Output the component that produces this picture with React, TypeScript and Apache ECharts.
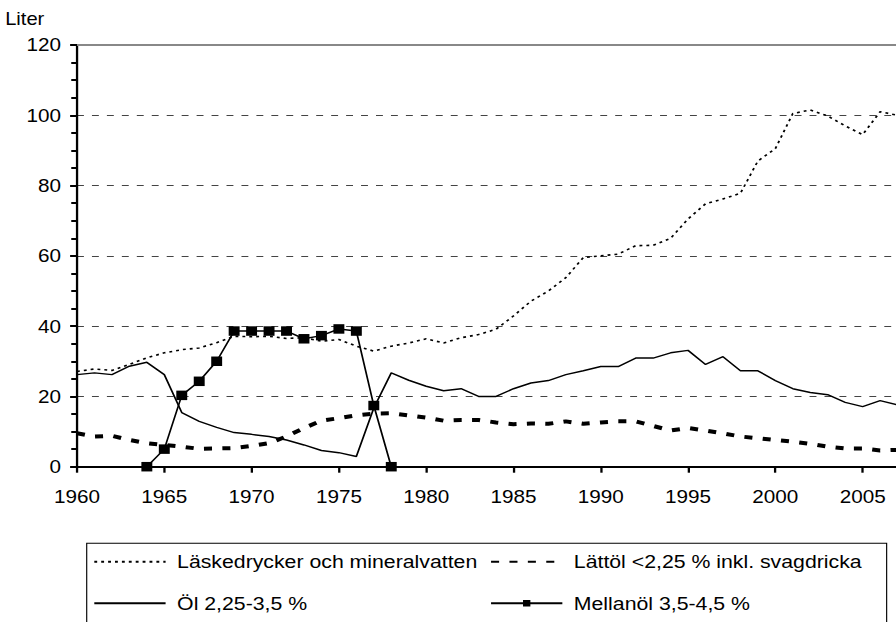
import React, { useEffect, useRef } from "react";
import * as echarts from "echarts";

const years = [
  1960, 1961, 1962, 1963, 1964, 1965, 1966, 1967, 1968, 1969,
  1970, 1971, 1972, 1973, 1974, 1975, 1976, 1977, 1978, 1979,
  1980, 1981, 1982, 1983, 1984, 1985, 1986, 1987, 1988, 1989,
  1990, 1991, 1992, 1993, 1994, 1995, 1996, 1997, 1998, 1999,
  2000, 2001, 2002, 2003, 2004, 2005, 2006, 2007,
];

const laskedrycker = [
  27.1, 27.8, 27.4, 29.1, 31.0, 32.4, 33.3, 33.8, 35.3, 37.1,
  37.0, 37.1, 36.5, 36.7, 35.7, 36.2, 34.3, 32.9, 34.3, 35.2,
  36.4, 35.2, 36.7, 37.6, 39.1, 42.9, 47.1, 50.0, 53.8, 59.5,
  60.0, 60.5, 62.9, 63.0, 65.0, 70.5, 74.8, 76.2, 77.8, 87.0,
  90.5, 100.5, 101.5, 99.8, 97.0, 94.5, 101.0, 100.0,
];

const lattol = [
  9.5, 8.6, 8.8, 7.6, 6.7, 6.2, 5.7, 5.1, 5.2, 5.3,
  5.9, 6.7, 8.6, 11.0, 13.1, 13.8, 14.6, 15.1, 15.2, 14.6,
  14.0, 13.1, 13.3, 13.3, 12.6, 12.1, 12.3, 12.2, 12.9, 12.2,
  12.6, 12.9, 12.9, 11.6, 10.3, 11.0, 10.3, 9.5, 8.6, 8.1,
  7.6, 7.1, 6.5, 5.7, 5.2, 5.2, 4.6, 4.8,
];

const ol = [
  26.2, 26.7, 26.2, 28.6, 29.7, 26.2, 15.4, 12.9, 11.2, 9.7,
  9.2, 8.6, 7.6, 6.2, 4.6, 4.0, 2.9, 16.7, 26.7, 24.6,
  22.9, 21.6, 22.2, 20.0, 20.0, 22.2, 23.8, 24.5, 26.2, 27.3,
  28.5, 28.5, 30.9, 30.9, 32.4, 33.1, 29.1, 31.3, 27.3, 27.3,
  24.5, 22.2, 21.1, 20.5, 18.3, 17.1, 18.8, 17.6,
];

const mellanolYears = [1964, 1965, 1966, 1967, 1968, 1969, 1970, 1971, 1972, 1973, 1974, 1975, 1976, 1977, 1978];
const mellanol = [0, 5.0, 20.3, 24.3, 30.0, 38.6, 38.6, 38.6, 38.6, 36.4, 37.3, 39.2, 38.6, 17.4, 0];

const seriesNames = [
  "Läskedrycker och mineralvatten",
  "Lättöl <2,25 % inkl. svagdricka",
  "Öl 2,25-3,5 %",
  "Mellanöl 3,5-4,5 %",
];
const yAxisTitle = "Liter";

const SX = 1.15;
const INNER_W = 800;
const H = 622;
const FONT = "'Liberation Sans', Arial, Helvetica, sans-serif";
const HIDDEN = "rgba(0,0,0,0)";

export default function App() {
  const ref = useRef<HTMLDivElement>(null);

  useEffect(() => {
    if (!ref.current) return;
    const chart = echarts.init(ref.current, null, { renderer: "svg" });
    const pair = (xs: number[], vs: number[]) => xs.map((x, i) => [x, vs[i]]);

    const legendText = {
      fontSize: 18.5,
      fontFamily: FONT,
      color: "#000",
      lineHeight: 22,
      padding: [0, 0, 0, 5],
    };

    chart.setOption({
      animation: false,
      backgroundColor: "#fff",
      textStyle: { fontFamily: FONT },
      grid: {
        left: 66.96,
        right: INNER_W - 780.5,
        top: 45,
        bottom: H - 466.7,
        containLabel: false,
        outerBoundsMode: "none",
      },
      xAxis: {
        type: "value",
        min: 1960,
        max: 2007,
        interval: 5,
        axisLine: { show: true, onZero: false, lineStyle: { color: "#000", width: 2 } },
        axisTick: { show: true, length: 6, lineStyle: { color: "#000", width: 2 } },
        axisLabel: {
          margin: 21,
          fontSize: 18,
          fontFamily: FONT,
          color: "#000",
          showMaxLabel: false,
          formatter: (v: number) => String(v),
        },
        splitLine: { show: false },
      },
      yAxis: {
        type: "value",
        min: 0,
        max: 120,
        interval: 20,
        axisLine: { show: true, lineStyle: { color: "#000", width: 2 } },
        axisTick: { show: true, length: 6, lineStyle: { color: "#000", width: 2 } },
        minorTick: { show: true, splitNumber: 4, length: 5, lineStyle: { color: "#000", width: 2 } },
        axisLabel: {
          margin: 14,
          fontSize: 18,
          fontFamily: FONT,
          color: "#000",
          formatter: (v: number) => String(v),
        },
        splitLine: { show: true, lineStyle: { color: "#444", width: 1, type: [6, 7] } },
      },
      legend: [
        {
          orient: "vertical",
          left: 81,
          top: 550.7,
          padding: 0,
          itemGap: 19.6,
          itemWidth: 62,
          itemHeight: 8,
          selectedMode: false,
          textStyle: legendText,
          data: [seriesNames[0], seriesNames[2]],
        },
        {
          orient: "vertical",
          left: 426,
          top: 550.7,
          padding: 0,
          itemGap: 19.6,
          itemWidth: 62,
          itemHeight: 8,
          selectedMode: false,
          textStyle: legendText,
          data: [seriesNames[1], seriesNames[3]],
        },
      ],
      graphic: [
        {
          type: "text",
          left: 4.5,
          top: 10,
          style: { text: yAxisTitle, font: `17.5px ${FONT}`, fill: "#000" },
        },
        {
          type: "rect",
          shape: { x: 75.4, y: 543.3, width: 695.6, height: 140 },
          style: { fill: "none", stroke: "#000", lineWidth: 1 },
        },
      ],
      series: [
        {
          name: seriesNames[0],
          type: "line",
          data: pair(years, laskedrycker),
          symbol: "none",
          lineStyle: { color: "#000", width: 1.6, type: [2.5, 3.5] },
          itemStyle: { color: HIDDEN },
          markLine: {
            silent: true,
            symbol: "none",
            label: { show: false },
            lineStyle: { color: "#888", width: 2, type: "solid" },
            data: [{ yAxis: 120 }],
          },
          z: 2,
        },
        {
          name: seriesNames[1],
          type: "line",
          data: pair(years, lattol),
          symbol: "none",
          lineStyle: { color: "#000", width: 4, type: [7, 9] },
          itemStyle: { color: HIDDEN },
          z: 3,
        },
        {
          name: seriesNames[2],
          type: "line",
          data: pair(years, ol),
          symbol: "none",
          lineStyle: { color: "#000", width: 1.5, type: "solid" },
          itemStyle: { color: HIDDEN },
          z: 4,
        },
        {
          name: seriesNames[3],
          type: "line",
          data: pair(mellanolYears, mellanol),
          symbol: "rect",
          symbolSize: 9.5,
          showAllSymbol: true,
          lineStyle: { color: "#000", width: 1.5, type: "solid" },
          itemStyle: { color: "#000" },
          z: 5,
        },
      ],
    });
    return () => chart.dispose();
  }, []);

  return (
    <div
      style={{
        position: "fixed",
        left: 0,
        top: 0,
        width: 896,
        height: H,
        overflow: "hidden",
        background: "#fff",
      }}
    >
      <div
        ref={ref}
        style={{
          width: INNER_W,
          height: H,
          transform: `scaleX(${SX})`,
          transformOrigin: "0 0",
        }}
      />
    </div>
  );
}
